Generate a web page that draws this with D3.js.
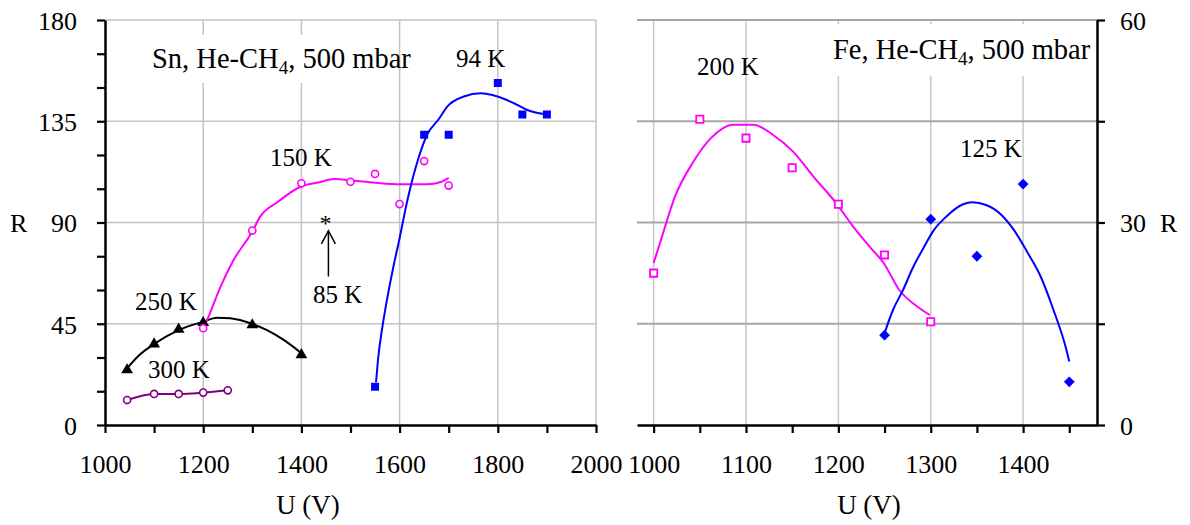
<!DOCTYPE html>
<html>
<head>
<meta charset="utf-8">
<script src="https://cdn.jsdelivr.net/npm/d3@7"></script>
<style>
  html, body { margin: 0; padding: 0; background: #fff; }
  svg { display: block; }
  text { font-family: "Liberation Serif", "Times New Roman", serif; fill: #000; }
</style>
</head>
<body>
<svg id="chart" width="1190" height="525"></svg>
<script>
// ---------------- DATA ----------------
// Left panel: Sn, He-CH4, 500 mbar
const leftXTicks = [1000, 1100, 1200, 1300, 1400, 1500, 1600, 1700, 1800, 1900, 2000];
const leftXLabels = [1000, 1200, 1400, 1600, 1800, 2000];
const leftYTicks = [0, 15, 30, 45, 60, 75, 90, 105, 120, 135, 150, 165, 180];
const leftYLabels = [0, 45, 90, 135, 180];

const sn94U = [1550, 1650, 1700, 1800, 1850, 1900];
const sn94R = [17, 129, 129, 152, 138, 138];
const sn94CurveU = [1552, 1556, 1566, 1578, 1588, 1599, 1616, 1639, 1656, 1680, 1697, 1731, 1765, 1789, 1833, 1860, 1900];
const sn94CurveR = [19, 29, 45, 60, 71, 82, 100, 119, 129, 136, 141.5, 146, 147.4, 146.7, 143, 140, 138];

const sn150U = [1200, 1300, 1400, 1500, 1550, 1600, 1650, 1700];
const sn150R = [43, 86.4, 107.4, 108.1, 111.6, 98.2, 117.3, 106.4];
const sn150CurveU = [1200, 1208, 1235, 1261, 1300, 1316, 1351, 1398, 1439, 1466, 1514, 1595, 1656, 1684, 1700];
const sn150CurveR = [43, 46.7, 61.3, 73, 86, 92.6, 99, 105.9, 108, 109.3, 108.4, 107, 107, 108, 109.8];

const sn250U = [1045, 1100, 1150, 1200, 1300, 1400];
const sn250R = [24.9, 36.4, 43, 45.9, 44.9, 31.6];
const sn250CurveU = [1045, 1070, 1100, 1150, 1200, 1228, 1255, 1300, 1330, 1364, 1400];
const sn250CurveR = [25.2, 31.1, 36, 42.2, 45.9, 47.7, 47.4, 44.9, 42.2, 37.8, 31.9];

const sn300U = [1045, 1100, 1150, 1200, 1250];
const sn300R = [11.1, 13.8, 13.8, 14.4, 15.4];

const sn85StarU = 1455, sn85StarR = 88;
const sn85ArrowU = 1455, sn85ArrowFromR = 66, sn85ArrowToR = 86.3;

// Right panel: Fe, He-CH4, 500 mbar
const rightXTicks = [1000, 1050, 1100, 1150, 1200, 1250, 1300, 1350, 1400, 1450];
const rightXLabels = [1000, 1100, 1200, 1300, 1400];
const rightYTicks = [0, 15, 30, 45, 60];
const rightYLabels = [0, 30, 60];

const fe200U = [1000, 1050, 1100, 1150, 1200, 1250, 1300];
const fe200R = [22.5, 45.3, 42.5, 38.1, 32.7, 25.2, 15.3];
const fe200CurveU = [1000, 1007, 1023, 1043, 1062, 1086, 1108, 1129, 1151, 1173, 1198, 1216, 1234, 1249, 1266, 1288, 1299];
const fe200CurveR = [24, 27, 33.8, 39, 42.5, 44.5, 44.5, 43, 40.5, 36.8, 32.8, 29.4, 26.4, 24, 20, 17.3, 16.3];

const fe125U = [1250, 1300, 1350, 1400, 1450];
const fe125R = [13.3, 30.5, 25, 35.7, 6.4];
const fe125CurveU = [1250, 1259, 1270, 1281, 1292, 1303, 1317, 1335, 1345, 1360, 1376, 1390, 1405, 1419, 1433, 1446, 1450];
const fe125CurveR = [13.6, 17, 20, 23.4, 26.2, 28.8, 30.9, 32.7, 33, 32.6, 31.2, 28.9, 25.5, 22, 17, 11.6, 9.4];

// ---------------- DRAWING ----------------
const svg = d3.select("#chart");
const zip = (a, b) => a.map((v, i) => [v, b[i]]);

const xL = d3.scaleLinear().domain([1000, 2000]).range([105, 596]);
const yL = d3.scaleLinear().domain([0, 180]).range([425, 20]);
const xR = d3.scaleLinear().domain([982, 1480]).range([637, 1097]);
const yR = d3.scaleLinear().domain([0, 60]).range([425, 20]);

const gridL = "#c4c4c4", gridRH = "#a6a6a6", gridRV = "#c8c8c8";

// Left grid
const gl = svg.append("g");
gl.selectAll("line.h").data([45, 90, 135, 180]).join("line")
  .attr("x1", xL(1000)).attr("x2", xL(2000))
  .attr("y1", d => yL(d)).attr("y2", d => yL(d))
  .attr("stroke", gridL).attr("stroke-width", 1.5);
gl.selectAll("line.v").data([1200, 1400, 1600, 1800, 2000]).join("line")
  .attr("x1", d => xL(d)).attr("x2", d => xL(d))
  .attr("y1", yL(0)).attr("y2", yL(180))
  .attr("stroke", gridL).attr("stroke-width", 1.5);

// Right grid
const gr = svg.append("g");
gr.selectAll("line.v").data([1000, 1100, 1200, 1300, 1400]).join("line")
  .attr("x1", d => xR(d)).attr("x2", d => xR(d))
  .attr("y1", yR(0)).attr("y2", yR(60))
  .attr("stroke", gridRV).attr("stroke-width", 1.5);
gr.selectAll("line.h").data([15, 30, 45, 60]).join("line")
  .attr("x1", xR(982)).attr("x2", xR(1480))
  .attr("y1", d => yR(d)).attr("y2", d => yR(d))
  .attr("stroke", gridRH).attr("stroke-width", 2);

// White label boxes
svg.append("rect").attr("x", 145).attr("y", 35).attr("width", 248).attr("height", 48).attr("fill", "#fff");
svg.append("rect").attr("x", 826).attr("y", 24).attr("width", 268).attr("height", 52).attr("fill", "#fff");

// Axes
function styleAxis(g, fs) {
  g.select(".domain").attr("stroke", "#000").attr("stroke-width", 2.5);
  g.selectAll(".tick line").attr("stroke", "#000").attr("stroke-width", 2.2);
  g.selectAll(".tick text").attr("font-size", fs).attr("font-family", "Liberation Serif");
}
const fmtL = d => leftXLabels.includes(d) ? d : "";
const axL = svg.append("g").attr("transform", `translate(0,${yL(0)})`)
  .call(d3.axisBottom(xL).tickValues(leftXTicks).tickFormat(fmtL).tickSize(8).tickPadding(22).tickSizeOuter(0));
styleAxis(axL, 26);
const ayL = svg.append("g").attr("transform", `translate(${xL(1000)},0)`)
  .call(d3.axisLeft(yL).tickValues(leftYTicks).tickFormat(d => leftYLabels.includes(d) ? d : "").tickSize(8).tickPadding(20).tickSizeOuter(0));
styleAxis(ayL, 26);
ayL.selectAll(".tick text").attr("dy", "0.36em");

const axR = svg.append("g").attr("transform", `translate(0,${yR(0)})`)
  .call(d3.axisBottom(xR).tickValues(rightXTicks).tickFormat(d => rightXLabels.includes(d) ? d : "").tickSize(8).tickPadding(22).tickSizeOuter(0));
styleAxis(axR, 26);
const ayR = svg.append("g").attr("transform", `translate(${xR(1480)},0)`)
  .call(d3.axisRight(yR).tickValues(rightYTicks).tickFormat(d => rightYLabels.includes(d) ? d : "").tickSize(8).tickPadding(15).tickSizeOuter(0));
styleAxis(ayR, 26);
ayR.selectAll(".tick text").attr("dy", "0.36em");

// Axis titles
svg.append("text").attr("x", 308).attr("y", 514).attr("text-anchor", "middle").attr("font-size", 27).text("U (V)");
svg.append("text").attr("x", 869).attr("y", 514).attr("text-anchor", "middle").attr("font-size", 27).text("U (V)");
svg.append("text").attr("x", 10).attr("y", 232).attr("font-size", 26).text("R");
svg.append("text").attr("x", 1160).attr("y", 232).attr("font-size", 26).text("R");

// Curves
const lineL = d3.line().x(d => xL(d[0])).y(d => yL(d[1])).curve(d3.curveMonotoneX);
const lineR = d3.line().x(d => xR(d[0])).y(d => yR(d[1])).curve(d3.curveMonotoneX);

svg.append("path").datum(zip(sn300U, sn300R)).attr("d", lineL).attr("fill", "none").attr("stroke", "#800080").attr("stroke-width", 2);
svg.append("path").datum(zip(sn250CurveU, sn250CurveR)).attr("d", lineL).attr("fill", "none").attr("stroke", "#000").attr("stroke-width", 2);
svg.append("path").datum(zip(sn150CurveU, sn150CurveR)).attr("d", lineL).attr("fill", "none").attr("stroke", "#ff00ff").attr("stroke-width", 2);
svg.append("path").datum(zip(sn94CurveU, sn94CurveR)).attr("d", lineL).attr("fill", "none").attr("stroke", "#0000ff").attr("stroke-width", 2);

svg.append("path").datum(zip(fe200CurveU, fe200CurveR)).attr("d", lineR).attr("fill", "none").attr("stroke", "#ff00ff").attr("stroke-width", 2);
svg.append("path").datum(zip(fe125CurveU, fe125CurveR)).attr("d", lineR).attr("fill", "none").attr("stroke", "#0000ff").attr("stroke-width", 2);

// Markers
const sym = (type, size) => d3.symbol().type(type).size(size)();
svg.append("g").selectAll("path").data(zip(sn300U, sn300R)).join("path")
  .attr("transform", d => `translate(${xL(d[0])},${yL(d[1])})`)
  .attr("d", sym(d3.symbolCircle, 40)).attr("fill", "#fff").attr("stroke", "#800080").attr("stroke-width", 1.6);
svg.append("g").selectAll("path").data(zip(sn250U, sn250R)).join("path")
  .attr("transform", d => `translate(${xL(d[0])},${yL(d[1])+1})`)
  .attr("d", sym(d3.symbolTriangle, 60)).attr("fill", "#000");
svg.append("g").selectAll("path").data(zip(sn150U, sn150R)).join("path")
  .attr("transform", d => `translate(${xL(d[0])},${yL(d[1])})`)
  .attr("d", sym(d3.symbolCircle, 40)).attr("fill", "#fff").attr("stroke", "#ff00ff").attr("stroke-width", 1.6);
svg.append("g").selectAll("path").data(zip(sn94U, sn94R)).join("path")
  .attr("transform", d => `translate(${xL(d[0])},${yL(d[1])})`)
  .attr("d", sym(d3.symbolSquare, 64)).attr("fill", "#0000ff");

svg.append("g").selectAll("path").data(zip(fe200U, fe200R)).join("path")
  .attr("transform", d => `translate(${xR(d[0])},${yR(d[1])})`)
  .attr("d", sym(d3.symbolSquare, 52)).attr("fill", "#fff").attr("stroke", "#ff00ff").attr("stroke-width", 1.8);
svg.append("g").selectAll("path").data(zip(fe125U, fe125R)).join("path")
  .attr("transform", d => `translate(${xR(d[0])},${yR(d[1])}) rotate(45)`)
  .attr("d", sym(d3.symbolSquare, 58)).attr("fill", "#0000ff");

// 85 K star and arrow
svg.append("text").attr("x", xL(sn85StarU) - 3).attr("y", yL(sn85StarR) + 4).attr("text-anchor", "middle").attr("font-size", 24).text("*");
const ax = xL(sn85ArrowU), ay1 = yL(sn85ArrowFromR), ay2 = yL(sn85ArrowToR);
svg.append("line").attr("x1", ax).attr("x2", ax).attr("y1", ay1).attr("y2", ay2).attr("stroke", "#000").attr("stroke-width", 1.5);
svg.append("path").attr("d", `M${ax - 7},${ay2 + 13}L${ax},${ay2}L${ax + 7},${ay2 + 13}`).attr("fill", "none").attr("stroke", "#000").attr("stroke-width", 1.5);

// Annotations
function ann(x, y, t, fs) { svg.append("text").attr("x", x).attr("y", y).attr("font-size", fs).text(t); }
ann(270, 166, "150 K", 25);
ann(456, 67, "94 K", 25);
ann(135, 310, "250 K", 25);
ann(148, 378, "300 K", 25);
ann(313, 303, "85 K", 25);
ann(697, 75, "200 K", 25);
ann(960, 157, "125 K", 25);

function titled(x, y, el, rest) {
  const t = svg.append("text").attr("x", x).attr("y", y).attr("font-size", 28.5);
  t.append("tspan").text(el + ", He-CH");
  t.append("tspan").attr("font-size", 19).attr("dy", 6).text("4");
  t.append("tspan").attr("dy", -6).text(rest);
}
titled(152, 68, "Sn", ", 500 mbar");
titled(833, 59, "Fe", ", 500 mbar");
</script>
</body>
</html>
